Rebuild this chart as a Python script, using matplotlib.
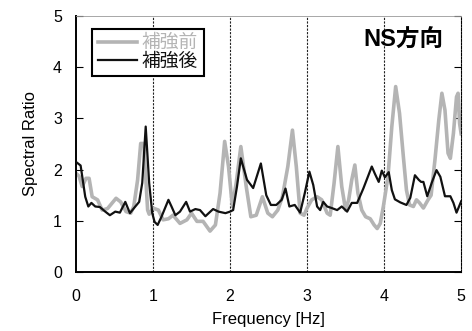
import matplotlib

matplotlib.use("Agg")

import matplotlib.pyplot as plt

# 補強前 (before strengthening) — gray curve
freq_before = [
    0.00, 0.04, 0.08, 0.13, 0.17, 0.21, 0.28, 0.34, 0.41, 0.52, 0.58, 0.65,
    0.71, 0.75, 0.80, 0.84, 0.88, 0.93, 0.95, 1.00, 1.07, 1.13, 1.20, 1.26,
    1.35, 1.44, 1.50, 1.57, 1.65, 1.74, 1.81, 1.87, 1.93, 1.98, 2.03, 2.08,
    2.14, 2.21, 2.27, 2.34, 2.42, 2.49, 2.55, 2.62, 2.68, 2.75, 2.81, 2.86,
    2.91, 2.96, 3.00, 3.06, 3.13, 3.19, 3.26, 3.30, 3.35, 3.40, 3.45, 3.50,
    3.54, 3.58, 3.62, 3.66, 3.71, 3.76, 3.82, 3.87, 3.91, 3.95, 3.99, 4.05,
    4.10, 4.15, 4.20, 4.25, 4.29, 4.33, 4.38, 4.42, 4.46, 4.51, 4.57, 4.61,
    4.66, 4.71, 4.75, 4.79, 4.83, 4.86, 4.90, 4.94, 4.96, 4.98, 5.00,
]
ratio_before = [
    1.93, 1.87, 1.67, 1.83, 1.83, 1.47, 1.41, 1.21, 1.24, 1.44, 1.37, 1.18,
    1.15, 1.28, 1.80, 2.51, 2.51, 1.21, 1.13, 1.25, 1.21, 1.02, 1.04, 1.11,
    0.95, 1.02, 1.15, 0.99, 0.99, 0.80, 0.92, 1.54, 2.55, 2.06, 1.28, 1.74,
    2.45, 1.67, 1.08, 1.11, 1.47, 1.15, 1.08, 1.21, 1.47, 2.06, 2.77, 2.06,
    1.15, 1.11, 1.25, 1.41, 1.47, 1.41, 1.15, 1.11, 1.73, 2.45, 1.67, 1.21,
    1.41, 1.80, 2.09, 1.54, 1.21, 1.08, 1.04, 0.92, 0.85, 0.95, 1.28, 1.86,
    2.84, 3.62, 3.10, 2.25, 1.60, 1.31, 1.28, 1.41, 1.35, 1.25, 1.41, 1.50,
    2.19, 2.97, 3.49, 3.16, 2.32, 2.22, 2.71, 3.42, 3.49, 2.90, 2.70,
]

# 補強後 (after strengthening) — black curve
freq_after = [
    0.00, 0.06, 0.12, 0.16, 0.20, 0.25, 0.31, 0.38, 0.44, 0.51, 0.57, 0.64,
    0.70, 0.77, 0.82, 0.86, 0.905, 0.95, 0.99, 1.02, 1.06, 1.11, 1.20, 1.24,
    1.29, 1.35, 1.43, 1.48, 1.55, 1.61, 1.68, 1.78, 1.85, 1.94, 2.00, 2.04,
    2.09, 2.14, 2.22, 2.30, 2.40, 2.47, 2.53, 2.60, 2.67, 2.72, 2.77, 2.84,
    2.91, 2.97, 3.03, 3.08, 3.13, 3.17, 3.21, 3.26, 3.32, 3.39, 3.45, 3.52,
    3.58, 3.65, 3.73, 3.84, 3.88, 3.93, 3.97, 4.01, 4.06, 4.10, 4.14, 4.21,
    4.29, 4.34, 4.40, 4.45, 4.48, 4.51, 4.56, 4.62, 4.68, 4.73, 4.79, 4.86,
    4.90, 4.94, 5.00,
]
ratio_after = [
    2.15, 2.08, 1.47, 1.28, 1.35, 1.28, 1.27, 1.18, 1.11, 1.18, 1.16, 1.37,
    1.15, 1.28, 1.37, 1.74, 2.84, 1.74, 1.15, 0.98, 0.92, 1.08, 1.41, 1.28,
    1.11, 1.18, 1.37, 1.18, 1.23, 1.21, 1.09, 1.23, 1.18, 1.15, 1.18, 1.21,
    1.67, 2.22, 1.80, 1.64, 2.12, 1.50, 1.31, 1.31, 1.41, 1.63, 1.28, 1.31,
    1.16, 1.54, 1.96, 1.70, 1.28, 1.21, 1.37, 1.28, 1.25, 1.21, 1.28, 1.18,
    1.35, 1.35, 1.63, 2.06, 1.92, 1.76, 1.98, 1.85, 1.95, 1.60, 1.42, 1.36,
    1.31, 1.45, 1.89, 1.80, 1.76, 1.76, 1.48, 1.75, 1.99, 1.86, 1.48, 1.48,
    1.35, 1.16, 1.38,
]

x_ticks = [0, 1, 2, 3, 4, 5]
y_ticks = [0, 1, 2, 3, 4, 5]

plt.rcParams["font.family"] = ["Liberation Sans", "Noto Sans CJK JP"]

fig = plt.figure(figsize=(4.72, 3.31), dpi=100)
ax = fig.add_axes((0.161, 0.178, 0.816, 0.774))

ax.plot(freq_before, ratio_before, color="#b4b4b4", lw=2.6, label="補強前",
        solid_joinstyle="round", zorder=2)
ax.plot(freq_after, ratio_after, color="#111111", lw=1.6, label="補強後",
        solid_joinstyle="round", zorder=3)

ax.set_xlim(0, 5)
ax.set_ylim(0, 5)
ax.set_xticks(x_ticks)
ax.set_yticks(y_ticks)
ax.tick_params(axis="x", length=0, pad=12, labelsize=11.5)
ax.tick_params(axis="y", direction="in", length=5, width=0.8, right=True,
               labelsize=11.5, pad=10)

# dotted verticals at the interior frequencies
for xv in x_ticks[1:-1]:
    ax.axvline(xv, color="#222222", lw=0.8, ls=(0, (2, 1.2)), zorder=1)

ax.spines["left"].set_linewidth(1.4)
ax.spines["bottom"].set_linewidth(1.4)
ax.spines["top"].set_linewidth(0.6)
ax.spines["top"].set_color("#999999")
ax.spines["right"].set_linewidth(0.8)
ax.spines["right"].set_linestyle((0, (2, 1.2)))

ax.set_xlabel("Frequency [Hz]", fontsize=12, labelpad=6)
ax.set_ylabel("Spectral Ratio", fontsize=12, labelpad=11)

ax.text(0.955, 0.905, "NS方向", transform=ax.transAxes, ha="right", va="center",
        fontsize=17, fontweight="bold")

leg = ax.legend(loc="upper left", bbox_to_anchor=(0.042, 0.948), borderaxespad=0,
                fontsize=13.5, labelcolor="linecolor", fancybox=False,
                framealpha=1, edgecolor="black", handlelength=2.1,
                handletextpad=0.25, labelspacing=0.05, borderpad=0.3)
leg.get_frame().set_linewidth(1.5)

fig.savefig("out.png", dpi=100)
